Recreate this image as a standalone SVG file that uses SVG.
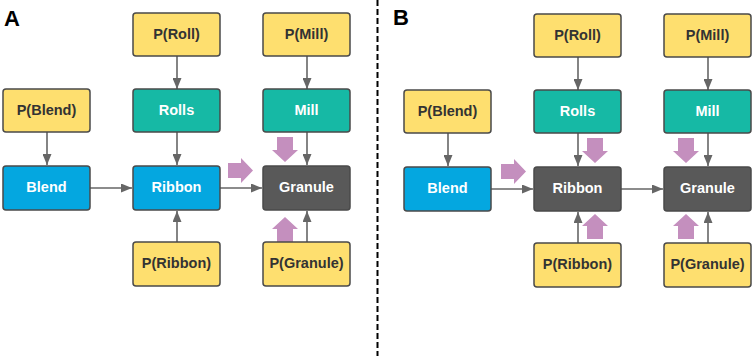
<svg xmlns="http://www.w3.org/2000/svg" width="754" height="356" viewBox="0 0 754 356">
<defs>
<style>
.box{stroke:#4a4a4a;stroke-width:1.5}
.y{fill:#fedf6f}
.t{fill:#16b9a5}
.b{fill:#04a7e0}
.g{fill:#595959}
text{font-family:"Liberation Sans",Arial,sans-serif;font-weight:bold;font-size:14.5px;text-anchor:middle;dominant-baseline:central}
.dk{fill:#333333}
.wt{fill:#ffffff}
.lab{font-size:22px;fill:#000;text-anchor:start;dominant-baseline:auto}
.c{stroke:#666666;stroke-width:1.6;fill:none;marker-end:url(#ah)}
.pk{fill:#c48fbe}
</style>
<marker id="ah" viewBox="0 0 11 9" refX="11" refY="4.5" markerWidth="11" markerHeight="9" orient="auto" markerUnits="userSpaceOnUse">
<path d="M0,0 L11,4.5 L0,9 z" fill="#666666"/>
</marker>
</defs>
<rect width="754" height="356" fill="#ffffff"/>
<text class="lab" x="4" y="26">A</text>
<text class="lab" x="393" y="25">B</text>
<line x1="377.5" y1="0" x2="377.5" y2="356" stroke="#000" stroke-width="2" stroke-dasharray="6,3"/>

<g id="connectors">
<path class="c" d="M177,56 V89"/>
<path class="c" d="M307,56 V89"/>
<path class="c" d="M47,132 V165"/>
<path class="c" d="M177,132 V165"/>
<path class="c" d="M307,132 V165"/>
<path class="c" d="M90,188 H132"/>
<path class="c" d="M220,188 H262"/>
<path class="c" d="M177,242 V211"/>
<path class="c" d="M307,242 V211"/>
<path class="c" d="M578,57 V90"/>
<path class="c" d="M708,57 V90"/>
<path class="c" d="M448,133 V166"/>
<path class="c" d="M578,133 V166"/>
<path class="c" d="M708,133 V166"/>
<path class="c" d="M491,189 H533"/>
<path class="c" d="M621,189 H663"/>
<path class="c" d="M578,243 V212"/>
<path class="c" d="M708,243 V212"/>
</g>

<g id="emphasis">
<path class="pk" d="M228,163 H241 V158 L253,170.5 L241,183 V178 H228 Z"/>
<path class="pk" d="M277,137 H293 V150 H298 L285,162 L272,150 H277 Z"/>
<path class="pk" d="M277,242 H293 V229 H298 L285,217 L272,229 H277 Z"/>
<path class="pk" d="M501,164 H514 V159 L526,171.5 L514,184 V179 H501 Z"/>
<path class="pk" d="M587,138 H603 V151 H608 L595,163 L582,151 H587 Z"/>
<path class="pk" d="M678,138 H694 V151 H699 L686,163 L673,151 H678 Z"/>
<path class="pk" d="M587,239 H603 V226 H608 L595,214 L582,226 H587 Z"/>
<path class="pk" d="M678,239 H694 V226 H699 L686,214 L673,226 H678 Z"/>
</g>

<g id="a-proll"><rect class="box y" x="133" y="13" width="87" height="43" rx="3"/><text class="dk" x="176.5" y="34">P(Roll)</text></g>
<g id="a-pmill"><rect class="box y" x="263" y="13" width="87" height="43" rx="3"/><text class="dk" x="306.5" y="34">P(Mill)</text></g>
<g id="a-pblend"><rect class="box y" x="3" y="89" width="87" height="43" rx="3"/><text class="dk" x="46.5" y="109.5">P(Blend)</text></g>
<g id="a-rolls"><rect class="box t" x="133" y="89" width="87" height="43" rx="3"/><text class="wt" x="176.5" y="109.5">Rolls</text></g>
<g id="a-mill"><rect class="box t" x="263" y="89" width="87" height="43" rx="3"/><text class="wt" x="306.5" y="109.5">Mill</text></g>
<g id="a-blend"><rect class="box b" x="3" y="166" width="87" height="44" rx="3"/><text class="wt" x="46.5" y="187">Blend</text></g>
<g id="a-ribbon"><rect class="box b" x="133" y="166" width="87" height="44" rx="3"/><text class="wt" x="176.5" y="187">Ribbon</text></g>
<g id="a-granule"><rect class="box g" x="263" y="166" width="87" height="44" rx="3"/><text class="wt" x="306.5" y="187">Granule</text></g>
<g id="a-pribbon"><rect class="box y" x="133" y="242" width="87" height="44" rx="3"/><text class="dk" x="176.5" y="263">P(Ribbon)</text></g>
<g id="a-pgranule"><rect class="box y" x="263" y="242" width="87" height="44" rx="3"/><text class="dk" x="306.5" y="263">P(Granule)</text></g>

<g id="b-proll"><rect class="box y" x="534" y="14" width="87" height="43" rx="3"/><text class="dk" x="577.5" y="35">P(Roll)</text></g>
<g id="b-pmill"><rect class="box y" x="664" y="14" width="87" height="43" rx="3"/><text class="dk" x="707.5" y="35">P(Mill)</text></g>
<g id="b-pblend"><rect class="box y" x="404" y="90" width="87" height="43" rx="3"/><text class="dk" x="447.5" y="110.5">P(Blend)</text></g>
<g id="b-rolls"><rect class="box t" x="534" y="90" width="87" height="43" rx="3"/><text class="wt" x="577.5" y="110.5">Rolls</text></g>
<g id="b-mill"><rect class="box t" x="664" y="90" width="87" height="43" rx="3"/><text class="wt" x="707.5" y="110.5">Mill</text></g>
<g id="b-blend"><rect class="box b" x="404" y="167" width="87" height="44" rx="3"/><text class="wt" x="447.5" y="188">Blend</text></g>
<g id="b-ribbon"><rect class="box g" x="534" y="167" width="87" height="44" rx="3"/><text class="wt" x="577.5" y="188">Ribbon</text></g>
<g id="b-granule"><rect class="box g" x="664" y="167" width="87" height="44" rx="3"/><text class="wt" x="707.5" y="188">Granule</text></g>
<g id="b-pribbon"><rect class="box y" x="534" y="243" width="87" height="44" rx="3"/><text class="dk" x="577.5" y="264">P(Ribbon)</text></g>
<g id="b-pgranule"><rect class="box y" x="664" y="243" width="87" height="44" rx="3"/><text class="dk" x="707.5" y="264">P(Granule)</text></g>
</svg>
